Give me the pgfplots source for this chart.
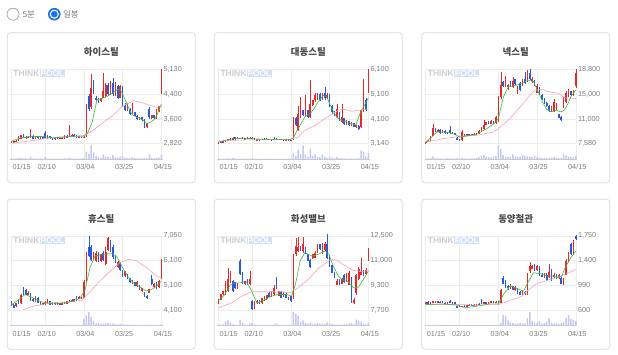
\documentclass[border=0pt]{standalone}
\usepackage{fontspec}
\setmainfont{Liberation Sans}
\newfontfamily\kr{Noto Sans CJK KR}
\usepackage{pgfplots}
\pgfplotsset{compat=1.18}
\usepackage{pgfplotstable}

\definecolor{cred}{RGB}{232,40,40}
\definecolor{cblue}{RGB}{40,90,225}
\definecolor{cgreen}{RGB}{60,185,60}
\definecolor{cpink}{RGB}{245,160,190}
\definecolor{cvol}{RGB}{198,201,238}
\definecolor{cgrid}{RGB}{236,236,236}
\definecolor{ctick}{RGB}{125,125,125}
\definecolor{cline}{RGB}{200,200,200}
\definecolor{cborder}{RGB}{218,218,218}
\definecolor{ctitle}{RGB}{72,72,72}
\definecolor{radioblue}{RGB}{25,115,232}
\definecolor{radiogray}{RGB}{170,170,170}
\definecolor{wmgray}{RGB}{205,205,205}
\definecolor{wmblue}{RGB}{208,224,248}

% ---------------- chart 1 : 하이스틸 ----------------
\pgfplotstableread{
i o h l c v
0 2880 2890 2830 2850 6
1 2850 2900 2840 2890 5
2 2880 2920 2870 2910 6
3 2900 3050 2890 3020 8
4 2980 3100 2960 3080 10
5 3080 3110 2990 3010 7
6 3000 3060 2980 3040 6
7 3040 3060 2990 3000 5
8 3000 3270 2990 3050 20
9 3050 3080 2960 2980 6
10 2990 3060 2980 3040 5
11 3040 3070 2980 3000 5
12 3000 3060 2970 3030 6
13 3030 3050 2960 2980 5
14 3150 3200 2980 3000 15
15 2990 3080 2970 3060 6
16 3050 3070 2960 2990 5
17 2990 3010 2950 2970 5
18 2970 3020 2950 3000 4
19 3000 3020 2960 2980 5
20 2980 3020 2960 3000 5
21 3000 3040 2980 3010 6
22 3000 3080 2980 3060 7
23 3060 3080 3000 3020 6
24 3050 3400 3020 3100 12
25 3050 3120 3030 3100 6
26 3090 3110 3030 3040 5
27 3050 3080 3010 3030 5
28 3020 3070 3000 3050 5
29 3050 3060 2990 3010 6
30 3010 3060 2990 3040 7
31 3060 4050 3040 4000 55
32 4300 4350 3850 3900 40
33 3950 5000 3900 4550 100
34 4750 4800 4380 4400 50
35 4250 4300 4150 4170 25
36 4200 4230 4100 4120 15
37 4150 4250 4120 4230 10
38 4250 5030 4240 4450 35
39 4300 4700 4280 4650 20
40 4650 4700 4300 4350 15
41 4350 4760 4330 4700 12
42 4700 4850 4300 4350 30
43 4350 4750 4300 4600 15
44 4600 4650 4200 4250 12
45 4250 4650 4230 4600 20
46 4550 4600 3950 4000 25
47 4000 4100 3850 3870 10
48 3870 4080 3850 3950 8
49 3900 3920 3700 3730 8
50 3750 4100 3730 3800 15
51 3800 3820 3650 3680 8
52 3680 3700 3560 3580 6
53 3580 3660 3560 3650 6
54 3650 3660 3520 3560 6
55 3560 3580 3300 3320 10
56 3330 3460 3300 3450 8
57 3900 3950 3600 3640 35
58 3620 3720 3600 3700 12
59 3700 3720 3580 3620 8
60 3620 3900 3600 3850 10
61 3850 4000 3820 3980 12
62 4450 5130 4380 5100 35
}\datA
\pgfplotstableread{
x y
0 2890
3.7 2995
8.5 3047
13.4 3040
18 3000
23 3040
29.9 3067
31.5 3150
33.3 3460
35.4 4180
37.5 4230
39.5 4284
41.6 4387
43.7 4490
45 4510
47.1 4180
48.5 3925
49.9 3720
51.9 3645
54 3585
56 3440
58 3510
59.5 3610
60.5 3770
62 4060
}\gA
\pgfplotstableread{
x y
0 2835
5 2880
10 2930
13.4 2975
20 3030
29.9 3050
33 3200
36.8 3410
42.3 3720
45.7 3975
50.5 4160
54.7 4078
58 3995
60.2 3955
62 3975
}\pA

% ---------------- chart 2 : 대동스틸 ----------------
\pgfplotstableread{
i o h l c v
0 3160 3200 3140 3190 4
1 3190 3240 3170 3220 3
2 3230 3250 3180 3200 4
3 3200 3300 3190 3280 5
4 3270 3330 3250 3310 6
5 3320 3360 3250 3280 4
6 3280 3400 3270 3380 8
7 3400 3420 3300 3320 6
8 3380 3410 3330 3350 5
9 3340 3380 3320 3370 4
10 3370 3390 3320 3330 4
11 3330 3380 3310 3360 5
12 3380 3400 3330 3340 4
13 3340 3400 3330 3380 4
14 3380 3410 3320 3330 6
15 3340 3360 3270 3280 5
16 3280 3340 3270 3320 4
17 3320 3340 3280 3290 3
18 3290 3340 3280 3330 4
19 3330 3350 3290 3300 4
20 3300 3350 3290 3320 3
21 3330 3340 3290 3300 4
22 3300 3330 3280 3320 4
23 3330 3400 3300 3310 5
24 3310 3350 3290 3330 4
25 3330 3340 3290 3300 3
26 3300 3340 3290 3320 4
27 3320 3330 3280 3290 3
28 3290 3320 3270 3300 3
29 3300 3320 3250 3260 4
30 3260 3300 3240 3280 5
31 3280 4200 3270 4180 45
32 4180 4200 3850 3870 25
33 3700 4630 3650 4340 70
34 4200 5000 4150 4600 40
35 4470 4500 4250 4300 100
36 4300 5070 4250 4540 35
37 4470 4500 4150 4210 20
38 4200 5670 4150 4740 80
39 4700 4900 4650 4870 25
40 4870 5140 4820 5070 35
41 4950 5140 4900 5100 15
42 5100 5140 4850 4900 15
43 4900 5140 4880 5080 35
44 5150 5400 4900 4950 20
45 4950 5150 4930 5100 10
46 5000 5100 4600 4650 18
47 4650 4700 4340 4400 12
48 4400 4450 4250 4270 8
49 4200 4740 4180 4540 18
50 4400 4420 4050 4070 8
51 4000 4740 3980 4200 6
52 4150 4180 3900 3940 6
53 3900 4100 3880 4030 5
54 4030 4050 3850 3870 5
55 3850 4000 3830 3960 5
56 3950 3980 3800 3810 5
57 3800 3900 3750 3870 6
58 3850 3870 3700 3730 8
59 3800 4500 3780 4470 65
60 4470 5700 4400 4940 55
61 4900 4950 4450 4500 20
62 5200 6100 5150 6050 45
}\datB
\pgfplotstableread{
x y
0 3207
5.5 3330
10 3360
13.8 3340
22 3300
29.6 3300
31 3380
33 3740
35.8 4207
38.6 4410
41.3 4810
43.4 5070
44.8 5000
46.9 4540
49 4180
51 4050
53 4010
55.1 3940
56.8 3880
57.9 4180
59.2 4473
60.6 4710
62 4960
}\gB
\pgfplotstableread{
x y
0 3250
13.8 3300
29.6 3300
33 3407
35.8 3673
40 3870
44 4140
46.9 4310
49.6 4473
52.3 4510
55.1 4430
57.9 4473
62 4500
}\pB

% ---------------- chart 3 : 넥스틸 ----------------
\pgfplotstableread{
i o h l c v
0 7700 7900 7580 7850 5
1 7850 8100 7800 8050 6
2 8050 8800 8000 8700 10
3 8800 10500 8700 9900 22
4 9900 10000 9300 9400 8
5 9400 9800 9300 9700 7
6 9700 9750 9100 9200 6
7 9200 9700 9150 9600 5
8 9500 9600 9050 9150 5
9 9300 9400 9000 9100 8
10 9700 10300 9100 9150 6
11 9100 9300 9000 9250 5
12 9200 9250 8850 8900 5
13 8500 8600 8100 8200 8
14 8300 8350 8050 8100 6
15 8100 9600 8050 9300 12
16 8800 9100 8700 9000 6
17 9000 9100 8800 8850 5
18 8850 9100 8800 9050 5
19 9050 9100 8900 8950 6
20 8950 9200 8900 9100 6
21 9050 9200 9000 9150 8
22 9150 9600 9100 9500 15
23 9500 10100 9450 9950 25
24 9800 11200 9700 10400 30
25 10400 10900 10350 10800 20
26 10900 11000 10500 10550 15
27 10550 11100 10500 10950 12
28 10900 11000 10600 10650 18
29 10650 11700 10600 11600 25
30 11000 14800 10900 14600 100
31 14600 18400 14400 16400 75
32 16900 17100 16200 16300 30
33 16300 17800 16200 16900 20
34 16100 16600 15700 16400 15
35 16900 17000 16100 16200 18
36 16100 17600 16050 17100 35
37 17300 17400 16500 16600 22
38 15200 16300 15100 16200 15
39 16700 16900 15600 15700 20
40 16400 17300 16300 17100 28
41 17400 18400 16600 16700 25
42 17100 18700 16900 18300 22
43 18300 18800 17200 17300 20
44 17000 17600 16800 17400 18
45 17100 17200 16300 16400 25
46 15300 16600 15200 16300 15
47 16000 16100 14900 15000 12
48 15000 15100 14200 14300 10
49 14400 14500 13600 13700 8
50 13800 13900 13100 13200 8
51 13300 13400 12400 12500 10
52 12400 13200 12300 13000 12
53 12500 14300 12400 13900 15
54 12700 13700 12600 13600 12
55 12000 12100 11400 11500 8
56 11600 11700 11000 11100 8
57 13100 14600 12900 14400 35
58 13900 15500 13800 15200 28
59 14800 15800 14700 15500 20
60 15500 15600 14800 14900 15
61 14900 15700 14800 15600 15
62 16300 18800 16000 18200 25
}\datC
\pgfplotstableread{
x y
0 7830
2.5 8590
4.5 9350
7.3 9350
11.4 9100
14.2 8590
16.2 8690
21 9000
25.2 9850
28.6 10710
30 11370
32.1 14650
34.1 16170
37.6 16420
41 16930
42.4 17180
44.5 16930
46.5 15410
48.6 13645
50 12730
52 12380
54.1 12630
55.8 12380
57.2 12630
58.5 13400
59.9 14650
62 15670
}\gC
\pgfplotstableread{
x y
0 7830
7.3 8340
14.2 8690
21 8840
28 9350
30 9850
34.8 11370
39 13140
43.1 14900
45.2 15670
48 15770
51.4 15410
54.8 15160
57.6 14500
62 14400
}\pC

% ---------------- chart 4 : 휴스틸 ----------------
\pgfplotstableread{
i o h l c v
0 4400 4450 4250 4270 4
1 4300 4350 4180 4200 3
2 4250 4400 4230 4390 4
3 4450 4500 4350 4380 5
4 4380 4750 4350 4700 6
5 4850 5020 4700 4750 7
6 4900 4950 4700 4720 6
7 4720 4850 4700 4800 5
8 4780 4800 4480 4500 4
9 4550 4600 4420 4450 4
10 4450 4650 4430 4600 4
11 4600 4620 4380 4400 3
12 4450 4470 4300 4330 3
13 4330 4400 4310 4390 3
14 4330 4450 4300 4430 4
15 4350 4560 4340 4480 5
16 4450 4470 4300 4320 4
17 4320 4430 4300 4400 3
18 4400 4420 4320 4340 3
19 4340 4420 4320 4380 3
20 4380 4400 4300 4320 3
21 4320 4420 4310 4400 3
22 4420 4440 4330 4350 3
23 4350 4480 4340 4460 4
24 4430 4520 4420 4500 4
25 4520 4560 4420 4440 3
26 4440 4560 4430 4540 3
27 4600 4650 4480 4500 4
28 4550 4650 4530 4620 4
29 4560 4640 4540 4620 5
30 4590 5280 4580 5230 50
31 5250 6400 5200 6300 75
32 6600 7050 6200 6250 100
33 6600 6700 6050 6100 65
34 6200 6400 6150 6320 35
35 6050 6450 6000 6380 15
36 6350 6400 6000 6050 20
37 6050 6350 6030 6320 12
38 6380 6450 6050 6100 15
39 5950 6600 5900 6400 18
40 6500 7000 6450 6950 20
41 6800 6900 6400 6450 15
42 6600 6700 6150 6200 15
43 6200 6250 5980 6000 12
44 5800 6050 5780 6020 10
45 5990 6000 5650 5680 12
46 5650 5680 5420 5450 10
47 5450 5660 5430 5650 8
48 5500 5520 5320 5330 8
49 5350 5380 5180 5200 6
50 5150 5290 5130 5280 8
51 5200 5230 5050 5070 6
52 5050 5250 5030 5200 6
53 5100 5120 4920 4940 6
54 4860 5000 4840 4990 5
55 4800 4820 4620 4640 6
56 4680 4700 4560 4580 5
57 4800 4950 4780 4930 8
58 5350 5500 5100 5150 6
59 5020 5180 5000 5130 5
60 5170 5200 4950 4970 5
61 5020 5300 5000 5250 5
62 5400 6120 5350 6050 8
}\datD
\pgfplotstableread{
x y
0 4300
3.6 4565
5.7 4725
9.1 4590
12.5 4430
17.4 4350
22.9 4390
28.4 4565
30.5 4925
32.5 5790
34.6 6250
38 6320
41.5 6345
43.5 6250
45.6 5855
48.4 5390
50.4 5190
53.2 5020
55.9 4860
58 4925
60 5055
62 5255
}\gD
\pgfplotstableread{
x y
5 4125
9.1 4260
16 4390
22.9 4430
29 4485
34 4990
39.4 5520
44.9 5990
48.4 6120
51.8 6054
55.9 5788
60 5455
62 5390
}\pD

% ---------------- chart 5 : 화성밸브 ----------------
\pgfplotstableread{
i o h l c v
0 8170 8420 8100 8390 5
1 8390 8750 8350 8720 8
2 8720 8950 8700 8930 10
3 8720 9560 8700 9150 30
4 8930 10450 8900 9690 40
5 9470 10230 9450 9800 25
6 9600 9650 8900 8950 10
7 9500 9550 9050 9120 8
8 9150 9450 9100 9400 6
9 10880 11000 9950 10010 45
10 10100 10150 9400 9470 25
11 9370 9600 9350 9580 10
12 9650 9700 9350 9370 8
13 9370 10230 9330 9690 15
14 8300 8350 7700 7780 20
15 7850 8300 7800 8250 8
16 8150 8350 8100 8290 6
17 8330 8360 8100 8120 5
18 8150 8500 8120 8470 6
19 8300 8600 8280 8560 6
20 8400 8700 8380 8650 7
21 8800 8850 8530 8560 5
22 8600 8950 8580 8920 6
23 8720 9320 8700 9140 10
24 9800 9850 9050 9100 18
25 8610 8950 8600 8930 6
26 8900 8930 8480 8500 5
27 8600 8850 8580 8810 6
28 8750 8780 8480 8500 5
29 8350 8550 8330 8500 5
30 8600 8620 8250 8280 6
31 8450 11350 8400 11300 100
32 11300 12390 11200 11850 85
33 11500 12400 11450 11800 70
34 11800 11850 11500 11530 30
35 11550 12400 11400 11950 40
36 11750 11800 11300 11310 20
37 11300 11350 10850 10880 15
38 10950 11000 10400 10500 25
39 11050 11350 11000 11300 12
40 11100 11550 11050 11420 15
41 11400 12000 11380 11900 20
42 11950 12000 11600 11650 12
43 11400 12050 11350 11950 15
44 11600 12100 11550 12000 12
45 12000 12600 11000 11100 25
46 11200 11250 10500 10600 18
47 10600 10650 10100 10130 12
48 10100 10150 9750 9800 10
49 9350 9700 9300 9600 8
50 9650 9700 9350 9380 8
51 9400 9750 9380 9700 8
52 10000 10050 9450 9500 10
53 9550 10100 9500 10000 12
54 9360 10250 9300 10100 15
55 9800 9850 8150 8200 20
56 8150 8500 8100 8350 10
57 8800 10050 8700 9950 45
58 9700 10500 9650 10350 35
59 10000 11050 9950 10250 30
60 10250 10300 9900 9950 15
61 10050 10400 10000 10300 12
62 10900 11750 10850 11300 25
}\datE
\pgfplotstableread{
x y
0 8284
2.7 8716
4.8 9320
6.9 9470
9 9470
11.7 9540
13.8 8930
15.9 8180
18.6 8330
22 8610
24.8 8716
28.2 8716
30.3 8610
32 9470
33.8 10880
35.8 11420
38.6 11200
41.3 11310
44.1 11530
45.7 11310
47.5 10550
49.6 9900
51.7 9620
53.7 9540
55.8 9150
57.9 9190
59.5 9580
62 10230
}\gE
\pgfplotstableread{
x y
0 7850
5.5 8175
9.7 8610
13.8 8890
19.3 8890
26.2 8890
29.6 8820
33 9150
37.2 9690
41.3 10400
45.7 10880
47.5 10990
49.6 10880
52.4 10550
55.8 10270
59.2 10190
62 10270
}\pE

% ---------------- chart 6 : 동양철관 ----------------
\pgfplotstableread{
i o h l c v
0 700 725 690 720 3
1 725 735 705 710 3
2 710 730 700 725 3
3 720 740 715 735 4
4 725 750 720 740 3
5 740 745 715 720 3
6 720 735 710 730 3
7 730 735 705 710 3
8 715 725 700 705 3
9 705 725 700 720 3
10 740 765 705 712 4
11 710 730 705 725 3
12 725 730 700 705 3
13 665 670 640 645 3
14 665 680 645 650 4
15 650 670 645 665 3
16 670 675 650 655 3
17 655 680 650 675 3
18 665 690 660 685 3
19 685 690 665 670 3
20 670 690 665 685 3
21 680 700 675 695 3
22 700 705 680 685 3
23 730 770 690 700 5
24 700 725 695 720 3
25 725 730 700 705 3
26 705 730 700 725 3
27 720 740 715 735 3
28 735 740 710 715 3
29 715 740 710 730 3
30 730 740 700 710 5
31 715 930 710 920 20
32 1105 1130 1000 1010 80
33 1040 1060 950 960 70
34 975 990 920 940 40
35 935 1000 930 985 25
36 970 980 905 915 20
37 905 975 900 960 15
38 940 950 850 870 18
39 880 890 830 840 20
40 850 890 840 880 15
41 880 890 830 845 15
42 850 1180 840 1150 55
43 1200 1340 1180 1290 100
44 1240 1300 1230 1280 35
45 1290 1320 1200 1220 25
46 1220 1300 1210 1290 20
47 1270 1290 1130 1150 35
48 1150 1180 1110 1120 15
49 1110 1180 1100 1150 20
50 1150 1170 1050 1060 30
51 1120 1310 1100 1190 55
52 1200 1230 1050 1060 20
53 1110 1170 1100 1150 15
54 1150 1160 1080 1090 20
55 1100 1160 1090 1150 12
56 1100 1110 1000 1010 20
57 1000 1100 990 1070 25
58 1150 1390 1140 1360 55
59 1360 1500 1340 1480 80
60 1620 1640 1460 1470 50
61 1460 1680 1450 1640 45
62 1750 1760 1690 1700 35
}\datF
\pgfplotstableread{
x y
0 688
7.3 698
12.8 678
16.2 636
21 662
26.6 698
30 698
32.1 843
34.8 973
37.6 937
40.4 895
42.4 1040
44.5 1180
47.3 1165
50 1130
52.8 1130
54.8 1102
56.2 1130
57.6 1258
59.6 1390
62 1517
}\gF
\pgfplotstableread{
x y
0 688
13 688
21 678
30 688
34.8 750
39.7 818
41.7 895
45.9 1010
48.6 1040
51.4 1077
54.8 1113
58.3 1165
62 1232
}\pF

\pgfplotsset{
  candlebase/.style={
    scale only axis, width=152.5bp, xmin=-0.5, xmax=62.5, clip=false,
    axis line style={draw=none}, major tick length=0pt, tick style={draw=none},
    xtick={0,14,30,46,62}, grid=major, grid style={cgrid, line width=0.5bp},
    scaled y ticks=false, scaled x ticks=false,
  },
  wick/.style={draw=none, mark=none, forget plot,
    error bars/y dir=both, error bars/y explicit, error bars/error mark=none,
    error bars/error bar style={draw=#1, line width=0.5bp}},
  body/.style={draw=none, mark=none, forget plot,
    error bars/y dir=both, error bars/y explicit, error bars/error mark=none,
    error bars/error bar style={draw=#1, line width=1.6bp}},
}

\newcommand{\panel}[7]{%
  \pgfmathsetmacro\pL{#1}%
  \pgfmathsetmacro\pR{#1+188}%
  \pgfmathsetmacro\pT{355-#2}%
  \pgfmathsetmacro\pB{355-#2-150}%
  \pgfmathsetmacro\tX{#1+94}%
  \pgfmathsetmacro\tY{355-#2-19.5}%
  \pgfmathsetmacro\wX{#1+6}%
  \pgfmathsetmacro\wY{355-#2-41}%
  \pgfmathsetmacro\aX{#1+2.8}%
  \pgfmathsetmacro\aYp{355-#2-111}%
  \pgfmathsetmacro\aYv{355-#2-126.6}%
  \draw[cborder, line width=0.7bp, fill=white, rounded corners=3bp] (\pL bp,\pT bp) rectangle (\pR bp,\pB bp);
  \node[text=ctitle, font=\kr\bfseries\fontsize{9.5}{11}\selectfont, inner sep=0pt] at (\tX bp,\tY bp) {#3};
  \node[anchor=west, inner sep=0pt, text=wmgray, font=\bfseries\fontsize{8.5}{9}\selectfont] (wm) at (\wX bp,\wY bp) {THINK};
  \node[anchor=west, inner sep=0.6bp, fill=wmblue, text=white, font=\bfseries\fontsize{8.5}{9}\selectfont] at (wm.east) {POOL};
  \begin{axis}[candlebase, at={(\aX bp,\aYp bp)}, anchor=south west, height=74.3bp,
    xticklabels={}, yticklabel pos=right,
    yticklabel style={anchor=west, inner sep=0pt, xshift=0.8bp, font=\fontsize{7.3}{8}\selectfont, text=ctick},
    #7]
    \addplot[restrict expr to domain={\thisrow{c}-\thisrow{o}}{0:1000000}, wick=cred]
      table[x=i, y expr={(\thisrow{h}+\thisrow{l})/2}, y error expr={(\thisrow{h}-\thisrow{l})/2}] {#4};
    \addplot[restrict expr to domain={\thisrow{o}-\thisrow{c}}{0.001:1000000}, wick=cblue]
      table[x=i, y expr={(\thisrow{h}+\thisrow{l})/2}, y error expr={(\thisrow{h}-\thisrow{l})/2}] {#4};
    \addplot[restrict expr to domain={\thisrow{c}-\thisrow{o}}{0:1000000}, body=cred]
      table[x=i, y expr={(\thisrow{o}+\thisrow{c})/2}, y error expr={abs(\thisrow{c}-\thisrow{o})/2}] {#4};
    \addplot[restrict expr to domain={\thisrow{o}-\thisrow{c}}{0.001:1000000}, body=cblue]
      table[x=i, y expr={(\thisrow{o}+\thisrow{c})/2}, y error expr={abs(\thisrow{c}-\thisrow{o})/2}] {#4};
    \addplot[cpink, line width=0.6bp, mark=none] table[x=x, y=y] {#6};
    \addplot[cgreen, line width=0.6bp, mark=none] table[x=x, y=y] {#5};
  \end{axis}
  \begin{axis}[candlebase, at={(\aX bp,\aYv bp)}, anchor=south west, height=13.8bp,
    ymin=0, ymax=100, ytick=\empty,
    axis x line*=bottom, x axis line style={draw=cline, line width=0.6bp},
    xtick={14,30,46,62}, xticklabels={02/10,03/04,03/25,04/15},
    extra x ticks={0}, extra x tick labels={01/15},
    extra x tick style={xticklabel style={anchor=north west, xshift=-0.5bp}},
    xticklabel style={anchor=north, inner sep=0pt, yshift=-5bp, xshift=1.5bp, font=\fontsize{7.3}{8}\selectfont, text=ctick}]
    \addplot[ybar, bar width=1.5bp, fill=cvol, draw=none] table[x=i, y=v] {#4};
  \end{axis}
}

\begin{document}
\begin{tikzpicture}
\path[use as bounding box, fill=white] (0bp,0bp) rectangle (618bp,355bp);
% radio buttons
\draw[radiogray, line width=0.8bp, fill=white] (13bp,340.8bp) circle (6bp);
\node[anchor=west, inner sep=0pt, text=ctick, font=\kr\fontsize{8.5}{9}\selectfont] at (22.3bp,340.8bp) {5분};
\fill[radioblue] (54.3bp,340.8bp) circle (6.3bp);
\fill[white] (54.3bp,340.8bp) circle (4.6bp);
\fill[radioblue] (54.3bp,340.8bp) circle (3.3bp);
\node[anchor=west, inner sep=0pt, text=ctick, font=\kr\fontsize{8.5}{9}\selectfont] at (63bp,340.8bp) {일봉};

\panel{7.3}{32.7}{하이스틸}{\datA}{\gA}{\pA}{ymin=2820, ymax=5130, ytick={2820,3590,4360,5130}, yticklabels={{2,820},{3,600},{4,400},{5,130}}}
\panel{214.3}{32.7}{대동스틸}{\datB}{\gB}{\pB}{ymin=3140, ymax=6100, ytick={3140,4126.67,5113.33,6100}, yticklabels={{3,140},{4,100},{5,100},{6,100}}}
\panel{421.7}{32.7}{넥스틸}{\datC}{\gC}{\pC}{ymin=7580, ymax=18800, ytick={7580,11320,15060,18800}, yticklabels={{7,580},{11,000},{15,000},{18,800}}}
\panel{7.3}{199.2}{휴스틸}{\datD}{\gD}{\pD}{ymin=4100, ymax=7050, ytick={4100,5083.33,6066.67,7050}, yticklabels={{4,100},{5,100},{6,100},{7,050}}}
\panel{214.3}{199.2}{화성밸브}{\datE}{\gE}{\pE}{ymin=7700, ymax=12500, ytick={7700,9300,10900,12500}, yticklabels={{7,700},{9,300},{11,000},{12,500}}}
\panel{421.7}{199.2}{동양철관}{\datF}{\gF}{\pF}{ymin=600, ymax=1750, ytick={600,983.33,1366.67,1750}, yticklabels={600,990,{1,400},{1,750}}}
\end{tikzpicture}
\end{document}
